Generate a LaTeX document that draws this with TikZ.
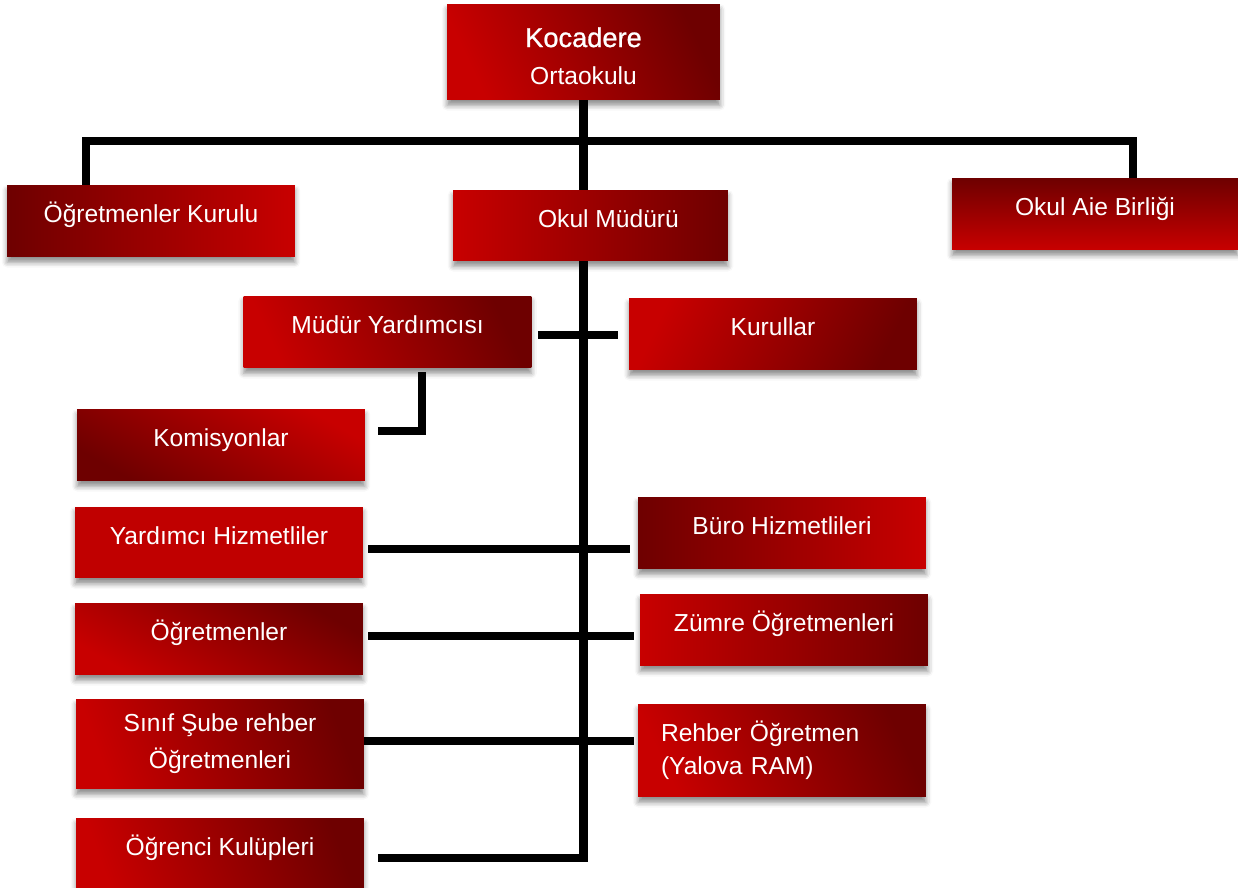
\documentclass[tikz,border=0pt]{standalone}
\usepackage{fontspec}
\setmainfont{Liberation Sans}
\newfontfamily\medfont[FakeBold=0.9]{Liberation Sans}
\usetikzlibrary{positioning,shadows.blur,backgrounds}
\definecolor{redhi}{RGB}{200,0,0}
\definecolor{redlo}{RGB}{110,0,0}
\definecolor{redflat}{RGB}{192,0,0}

\begin{document}
\begin{tikzpicture}[x=0.02cm,y=-0.02cm,
    box/.style={rectangle, inner sep=0pt, minimum width=5.76cm, minimum height=1.44cm,
        text=white, font=\fontsize{14}{17}\selectfont, align=center,
        blur shadow={shadow xshift=0pt, shadow yshift=-3pt, shadow blur radius=3pt, shadow opacity=45}},
    one/.style={text height=10.5pt, text depth=8.4pt},
    grad/.style={left color=redhi, right color=redlo, shading angle=#1},
    conn/.style={line width=0.17cm, black}]
    \useasboundingbox (0,0) rectangle (1238,888);

    \node[box, grad=115, minimum width=5.46cm, minimum height=1.92cm] (koc) at (583.5,52)
        {\rule{0pt}{16pt}{\medfont\fontsize{15.5}{18}\selectfont Kocadere}\\[4.5pt] Ortaokulu};
    \node[box, one, grad=270] (ogk) at (151,221) {Öğretmenler Kurulu};
    \node[box, one, grad=90, minimum width=5.5cm, minimum height=1.42cm] (mud) at (590.5,225.5)
        {\hspace*{0.72cm}Okul Müdürü};
    \node[box, one, grad=180, minimum width=5.72cm] (aile) at (1095,214) {Okul Aie Birliği};
    \node[box, one, grad=115] (myar) at (387.5,332) {Müdür Yardımcısı};
    \node[box, one, grad=65] (kur) at (773,334) {Kurullar};
    \node[box, one, grad=330] (kom) at (221,445) {Komisyonlar};
    \node[box, one, fill=redflat] (yhiz) at (219,542.5) {Yardımcı Hizmetliler};
    \node[box, one, grad=270] (buro) at (782,533) {Büro Hizmetlileri};
    \node[box, one, grad=150] (ogr) at (219,639) {Öğretmenler};
    \node[box, one, grad=90] (zum) at (784,630) {Zümre Öğretmenleri};
    \node[box, grad=110, minimum height=1.8cm] (sube) at (220,744)
        {Sınıf Şube rehber\\[4pt]Öğretmenleri};
    \node[box, grad=115, minimum height=1.86cm, text width=4.84cm, align=left] (rehb) at (782,750.5)
        {Rehber Öğretmen\\[1.7pt](Yalova RAM)};
    \node[box, one, grad=110] (kulup) at (220,854) {Öğrenci Kulüpleri};

    \begin{scope}[on background layer]
    \coordinate (barl) at (86,141);
    \coordinate (barr) at (1133,141);
    \coordinate (kbend) at (422,431);
    % trunk down to the clubs
    \draw[conn, shorten >=0.28cm] (koc.south) |- (kulup.east |- 0,858);
    \draw[conn] (ogk.north -| barl) -- (barl) -- (barr) -- (aile.north -| barr);
    \draw[conn, shorten <=0.12cm, shorten >=0.22cm] (myar.east |- 0,335) -- (kur.west |- 0,335);
    \draw[conn, shorten <=0.08cm, shorten >=0.26cm] (myar.south -| kbend) -- (kbend) -- (kom.east |- kbend);
    \draw[conn, shorten <=0.1cm, shorten >=0.16cm] (yhiz.east |- 0,549) -- (buro.west |- 0,549);
    \draw[conn, shorten <=0.1cm, shorten >=0.12cm] (ogr.east |- 0,636) -- (zum.west |- 0,636);
    \draw[conn, shorten >=0.08cm] (sube.east |- 0,741) -- (rehb.west |- 0,741);
    \end{scope}
\end{tikzpicture}
\end{document}
